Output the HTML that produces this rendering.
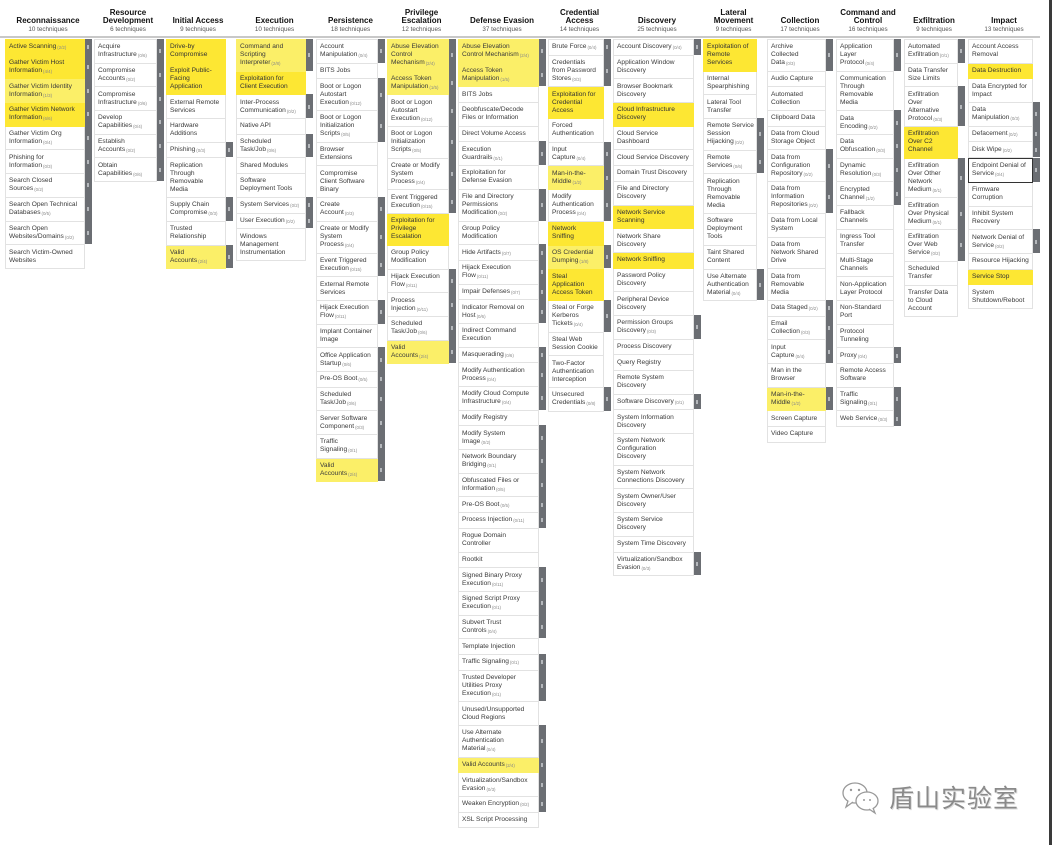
<!DOCTYPE html>
<html><head><meta charset="utf-8"><style>
body{margin:0;width:1052px;height:845px;background:#fff;position:relative;overflow:hidden;font-family:"Liberation Sans","Noto Sans CJK SC",sans-serif;}
.h{position:absolute;top:0;height:34px;display:flex;flex-direction:column;justify-content:flex-end;align-items:center;text-align:center;}
.h b{font-size:8px;line-height:8px;color:#111;}
.h span{font-size:6.3px;line-height:9px;color:#555;}
.rule{position:absolute;left:0;top:36px;width:1040px;height:2px;background:#c8c8c8;}
.col{position:absolute;top:39px;}
.c{position:relative;box-sizing:border-box;padding:3.35px 3px;line-height:8px;font-size:6.6px;border:1px solid #e2e2e2;border-top:none;background:#fff;white-space:nowrap;color:#3a3a3a;}
.c:first-child{border-top:1px solid #e2e2e2;}
.y{background:#fde733;border-color:#fde733!important;color:#333;}
.l{background:#fbef68;border-color:#fbef68!important;}
.b::after{content:"";position:absolute;top:-1px;bottom:0;right:-8px;width:7px;background:#6b6e73;}
.b::before{content:"";position:absolute;top:50%;margin-top:-2px;right:-5px;width:2px;height:4px;background:#b5b8bc;z-index:2;}
.c i{font-style:normal;font-size:4.4px;line-height:0;color:#888;vertical-align:0;position:relative;top:1px;margin-left:1px;}
.k{border:1px solid #333!important;}
</style></head><body>

<div class="h" style="left:0;width:96px"><b>Reconnaissance</b><span>10 techniques</span></div>
<div class="h" style="left:90px;width:76px"><b>Resource<br>Development</b><span>6 techniques</span></div>
<div class="h" style="left:163px;width:70px"><b>Initial Access</b><span>9 techniques</span></div>
<div class="h" style="left:236px;width:77px"><b>Execution</b><span>10 techniques</span></div>
<div class="h" style="left:316px;width:69px"><b>Persistence</b><span>18 techniques</span></div>
<div class="h" style="left:387px;width:69px"><b>Privilege<br>Escalation</b><span>12 techniques</span></div>
<div class="h" style="left:458px;width:88px"><b>Defense Evasion</b><span>37 techniques</span></div>
<div class="h" style="left:548px;width:63px"><b>Credential<br>Access</b><span>14 techniques</span></div>
<div class="h" style="left:613px;width:88px"><b>Discovery</b><span>25 techniques</span></div>
<div class="h" style="left:700px;width:67px"><b>Lateral<br>Movement</b><span>9 techniques</span></div>
<div class="h" style="left:767px;width:66px"><b>Collection</b><span>17 techniques</span></div>
<div class="h" style="left:830px;width:76px"><b>Command and<br>Control</b><span>16 techniques</span></div>
<div class="h" style="left:900px;width:68px"><b>Exfiltration</b><span>9 techniques</span></div>
<div class="h" style="left:966px;width:76px"><b>Impact</b><span>13 techniques</span></div>
<div class="rule"></div>

<div class="col" style="left:5px;width:80px">
<div class="c y b">Active Scanning<i>(2/2)</i></div>
<div class="c y b">Gather Victim Host<br>Information<i>(4/4)</i></div>
<div class="c l b">Gather Victim Identity<br>Information<i>(1/3)</i></div>
<div class="c y b">Gather Victim Network<br>Information<i>(6/6)</i></div>
<div class="c b">Gather Victim Org<br>Information<i>(0/4)</i></div>
<div class="c b">Phishing for<br>Information<i>(0/3)</i></div>
<div class="c b">Search Closed<br>Sources<i>(0/2)</i></div>
<div class="c b">Search Open Technical<br>Databases<i>(0/5)</i></div>
<div class="c b">Search Open<br>Websites/Domains<i>(0/2)</i></div>
<div class="c">Search Victim-Owned<br>Websites</div>
</div>

<div class="col" style="left:94px;width:63px">
<div class="c b">Acquire<br>Infrastructure<i>(0/6)</i></div>
<div class="c b">Compromise<br>Accounts<i>(0/2)</i></div>
<div class="c b">Compromise<br>Infrastructure<i>(0/6)</i></div>
<div class="c b">Develop<br>Capabilities<i>(0/4)</i></div>
<div class="c b">Establish<br>Accounts<i>(0/2)</i></div>
<div class="c b">Obtain<br>Capabilities<i>(0/6)</i></div>
</div>

<div class="col" style="left:166px;width:60px">
<div class="c y">Drive-by<br>Compromise</div>
<div class="c y">Exploit Public-<br>Facing<br>Application</div>
<div class="c">External Remote<br>Services</div>
<div class="c">Hardware<br>Additions</div>
<div class="c b">Phishing<i>(0/3)</i></div>
<div class="c">Replication<br>Through<br>Removable<br>Media</div>
<div class="c b">Supply Chain<br>Compromise<i>(0/3)</i></div>
<div class="c">Trusted<br>Relationship</div>
<div class="c l b">Valid<br>Accounts<i>(2/4)</i></div>
</div>

<div class="col" style="left:236px;width:70px">
<div class="c l b">Command and<br>Scripting<br>Interpreter<i>(2/8)</i></div>
<div class="c y">Exploitation for<br>Client Execution</div>
<div class="c b">Inter-Process<br>Communication<i>(0/2)</i></div>
<div class="c">Native API</div>
<div class="c b">Scheduled<br>Task/Job<i>(0/6)</i></div>
<div class="c">Shared Modules</div>
<div class="c">Software<br>Deployment Tools</div>
<div class="c b">System Services<i>(0/2)</i></div>
<div class="c b">User Execution<i>(0/2)</i></div>
<div class="c">Windows<br>Management<br>Instrumentation</div>
</div>

<div class="col" style="left:316px;width:62px">
<div class="c b">Account<br>Manipulation<i>(0/4)</i></div>
<div class="c">BITS Jobs</div>
<div class="c b">Boot or Logon<br>Autostart<br>Execution<i>(0/12)</i></div>
<div class="c b">Boot or Logon<br>Initialization<br>Scripts<i>(0/5)</i></div>
<div class="c">Browser<br>Extensions</div>
<div class="c">Compromise<br>Client Software<br>Binary</div>
<div class="c b">Create<br>Account<i>(0/3)</i></div>
<div class="c b">Create or Modify<br>System<br>Process<i>(0/4)</i></div>
<div class="c b">Event Triggered<br>Execution<i>(0/15)</i></div>
<div class="c">External Remote<br>Services</div>
<div class="c b">Hijack Execution<br>Flow<i>(0/11)</i></div>
<div class="c">Implant Container<br>Image</div>
<div class="c b">Office Application<br>Startup<i>(0/6)</i></div>
<div class="c b">Pre-OS Boot<i>(0/5)</i></div>
<div class="c b">Scheduled<br>Task/Job<i>(0/6)</i></div>
<div class="c b">Server Software<br>Component<i>(0/3)</i></div>
<div class="c b">Traffic<br>Signaling<i>(0/1)</i></div>
<div class="c l b">Valid<br>Accounts<i>(2/4)</i></div>
</div>

<div class="col" style="left:387px;width:62px">
<div class="c l b">Abuse Elevation<br>Control<br>Mechanism<i>(2/4)</i></div>
<div class="c l b">Access Token<br>Manipulation<i>(1/5)</i></div>
<div class="c b">Boot or Logon<br>Autostart<br>Execution<i>(0/12)</i></div>
<div class="c b">Boot or Logon<br>Initialization<br>Scripts<i>(0/5)</i></div>
<div class="c b">Create or Modify<br>System<br>Process<i>(0/4)</i></div>
<div class="c b">Event Triggered<br>Execution<i>(0/15)</i></div>
<div class="c y">Exploitation for<br>Privilege<br>Escalation</div>
<div class="c">Group Policy<br>Modification</div>
<div class="c b">Hijack Execution<br>Flow<i>(0/11)</i></div>
<div class="c b">Process<br>Injection<i>(0/11)</i></div>
<div class="c b">Scheduled<br>Task/Job<i>(0/6)</i></div>
<div class="c l b">Valid<br>Accounts<i>(2/4)</i></div>
</div>

<div class="col" style="left:458px;width:81px">
<div class="c l b">Abuse Elevation<br>Control Mechanism<i>(2/4)</i></div>
<div class="c l b">Access Token<br>Manipulation<i>(1/5)</i></div>
<div class="c">BITS Jobs</div>
<div class="c">Deobfuscate/Decode<br>Files or Information</div>
<div class="c">Direct Volume Access</div>
<div class="c b">Execution<br>Guardrails<i>(0/1)</i></div>
<div class="c">Exploitation for<br>Defense Evasion</div>
<div class="c b">File and Directory<br>Permissions<br>Modification<i>(0/2)</i></div>
<div class="c">Group Policy<br>Modification</div>
<div class="c b">Hide Artifacts<i>(0/7)</i></div>
<div class="c b">Hijack Execution<br>Flow<i>(0/11)</i></div>
<div class="c b">Impair Defenses<i>(0/7)</i></div>
<div class="c b">Indicator Removal on<br>Host<i>(0/6)</i></div>
<div class="c">Indirect Command<br>Execution</div>
<div class="c b">Masquerading<i>(0/6)</i></div>
<div class="c b">Modify Authentication<br>Process<i>(0/4)</i></div>
<div class="c b">Modify Cloud Compute<br>Infrastructure<i>(0/4)</i></div>
<div class="c">Modify Registry</div>
<div class="c b">Modify System<br>Image<i>(0/2)</i></div>
<div class="c b">Network Boundary<br>Bridging<i>(0/1)</i></div>
<div class="c b">Obfuscated Files or<br>Information<i>(0/5)</i></div>
<div class="c b">Pre-OS Boot<i>(0/5)</i></div>
<div class="c b">Process Injection<i>(0/11)</i></div>
<div class="c">Rogue Domain<br>Controller</div>
<div class="c">Rootkit</div>
<div class="c b">Signed Binary Proxy<br>Execution<i>(0/11)</i></div>
<div class="c b">Signed Script Proxy<br>Execution<i>(0/1)</i></div>
<div class="c b">Subvert Trust<br>Controls<i>(0/4)</i></div>
<div class="c">Template Injection</div>
<div class="c b">Traffic Signaling<i>(0/1)</i></div>
<div class="c b">Trusted Developer<br>Utilities Proxy<br>Execution<i>(0/1)</i></div>
<div class="c">Unused/Unsupported<br>Cloud Regions</div>
<div class="c b">Use Alternate<br>Authentication<br>Material<i>(0/4)</i></div>
<div class="c l b">Valid Accounts<i>(2/4)</i></div>
<div class="c b">Virtualization/Sandbox<br>Evasion<i>(0/3)</i></div>
<div class="c b">Weaken Encryption<i>(0/2)</i></div>
<div class="c">XSL Script Processing</div>
</div>

<div class="col" style="left:548px;width:56px">
<div class="c b">Brute Force<i>(0/4)</i></div>
<div class="c b">Credentials<br>from Password<br>Stores<i>(0/3)</i></div>
<div class="c y">Exploitation for<br>Credential<br>Access</div>
<div class="c">Forced<br>Authentication</div>
<div class="c b">Input<br>Capture<i>(0/4)</i></div>
<div class="c l b">Man-in-the-<br>Middle<i>(1/2)</i></div>
<div class="c b">Modify<br>Authentication<br>Process<i>(0/4)</i></div>
<div class="c y">Network<br>Sniffing</div>
<div class="c l b">OS Credential<br>Dumping<i>(1/8)</i></div>
<div class="c y">Steal<br>Application<br>Access Token</div>
<div class="c b">Steal or Forge<br>Kerberos<br>Tickets<i>(0/4)</i></div>
<div class="c">Steal Web<br>Session Cookie</div>
<div class="c">Two-Factor<br>Authentication<br>Interception</div>
<div class="c b">Unsecured<br>Credentials<i>(0/8)</i></div>
</div>

<div class="col" style="left:613px;width:81px">
<div class="c b">Account Discovery<i>(0/4)</i></div>
<div class="c">Application Window<br>Discovery</div>
<div class="c">Browser Bookmark<br>Discovery</div>
<div class="c y">Cloud Infrastructure<br>Discovery</div>
<div class="c">Cloud Service<br>Dashboard</div>
<div class="c">Cloud Service Discovery</div>
<div class="c">Domain Trust Discovery</div>
<div class="c">File and Directory<br>Discovery</div>
<div class="c y">Network Service<br>Scanning</div>
<div class="c">Network Share<br>Discovery</div>
<div class="c y">Network Sniffing</div>
<div class="c">Password Policy<br>Discovery</div>
<div class="c">Peripheral Device<br>Discovery</div>
<div class="c b">Permission Groups<br>Discovery<i>(0/3)</i></div>
<div class="c">Process Discovery</div>
<div class="c">Query Registry</div>
<div class="c">Remote System<br>Discovery</div>
<div class="c b">Software Discovery<i>(0/1)</i></div>
<div class="c">System Information<br>Discovery</div>
<div class="c">System Network<br>Configuration<br>Discovery</div>
<div class="c">System Network<br>Connections Discovery</div>
<div class="c">System Owner/User<br>Discovery</div>
<div class="c">System Service<br>Discovery</div>
<div class="c">System Time Discovery</div>
<div class="c b">Virtualization/Sandbox<br>Evasion<i>(0/3)</i></div>
</div>

<div class="col" style="left:703px;width:54px">
<div class="c y">Exploitation of<br>Remote<br>Services</div>
<div class="c">Internal<br>Spearphishing</div>
<div class="c">Lateral Tool<br>Transfer</div>
<div class="c b">Remote Service<br>Session<br>Hijacking<i>(0/2)</i></div>
<div class="c b">Remote<br>Services<i>(0/6)</i></div>
<div class="c">Replication<br>Through<br>Removable<br>Media</div>
<div class="c">Software<br>Deployment<br>Tools</div>
<div class="c">Taint Shared<br>Content</div>
<div class="c b">Use Alternate<br>Authentication<br>Material<i>(0/4)</i></div>
</div>

<div class="col" style="left:767px;width:59px">
<div class="c b">Archive<br>Collected<br>Data<i>(0/3)</i></div>
<div class="c">Audio Capture</div>
<div class="c">Automated<br>Collection</div>
<div class="c">Clipboard Data</div>
<div class="c">Data from Cloud<br>Storage Object</div>
<div class="c b">Data from<br>Configuration<br>Repository<i>(0/2)</i></div>
<div class="c b">Data from<br>Information<br>Repositories<i>(0/2)</i></div>
<div class="c">Data from Local<br>System</div>
<div class="c">Data from<br>Network Shared<br>Drive</div>
<div class="c">Data from<br>Removable<br>Media</div>
<div class="c b">Data Staged<i>(0/2)</i></div>
<div class="c b">Email<br>Collection<i>(0/3)</i></div>
<div class="c b">Input<br>Capture<i>(0/4)</i></div>
<div class="c">Man in the<br>Browser</div>
<div class="c l b">Man-in-the-<br>Middle<i>(1/2)</i></div>
<div class="c">Screen Capture</div>
<div class="c">Video Capture</div>
</div>

<div class="col" style="left:836px;width:58px">
<div class="c b">Application<br>Layer<br>Protocol<i>(0/4)</i></div>
<div class="c">Communication<br>Through<br>Removable<br>Media</div>
<div class="c b">Data<br>Encoding<i>(0/2)</i></div>
<div class="c b">Data<br>Obfuscation<i>(0/3)</i></div>
<div class="c b">Dynamic<br>Resolution<i>(0/3)</i></div>
<div class="c b">Encrypted<br>Channel<i>(1/2)</i></div>
<div class="c">Fallback<br>Channels</div>
<div class="c">Ingress Tool<br>Transfer</div>
<div class="c">Multi-Stage<br>Channels</div>
<div class="c">Non-Application<br>Layer Protocol</div>
<div class="c">Non-Standard<br>Port</div>
<div class="c">Protocol<br>Tunneling</div>
<div class="c b">Proxy<i>(0/4)</i></div>
<div class="c">Remote Access<br>Software</div>
<div class="c b">Traffic<br>Signaling<i>(0/1)</i></div>
<div class="c b">Web Service<i>(0/3)</i></div>
</div>

<div class="col" style="left:904px;width:54px">
<div class="c b">Automated<br>Exfiltration<i>(0/1)</i></div>
<div class="c">Data Transfer<br>Size Limits</div>
<div class="c b">Exfiltration<br>Over<br>Alternative<br>Protocol<i>(0/3)</i></div>
<div class="c y">Exfiltration<br>Over C2<br>Channel</div>
<div class="c b">Exfiltration<br>Over Other<br>Network<br>Medium<i>(0/1)</i></div>
<div class="c b">Exfiltration<br>Over Physical<br>Medium<i>(0/1)</i></div>
<div class="c b">Exfiltration<br>Over Web<br>Service<i>(0/2)</i></div>
<div class="c">Scheduled<br>Transfer</div>
<div class="c">Transfer Data<br>to Cloud<br>Account</div>
</div>

<div class="col" style="left:968px;width:65px">
<div class="c">Account Access<br>Removal</div>
<div class="c y">Data Destruction</div>
<div class="c">Data Encrypted for<br>Impact</div>
<div class="c b">Data<br>Manipulation<i>(0/3)</i></div>
<div class="c b">Defacement<i>(0/2)</i></div>
<div class="c b">Disk Wipe<i>(0/2)</i></div>
<div class="c b k">Endpoint Denial of<br>Service<i>(0/4)</i></div>
<div class="c">Firmware<br>Corruption</div>
<div class="c">Inhibit System<br>Recovery</div>
<div class="c b">Network Denial of<br>Service<i>(0/2)</i></div>
<div class="c">Resource Hijacking</div>
<div class="c y">Service Stop</div>
<div class="c">System<br>Shutdown/Reboot</div>
</div>

<div style="position:absolute;left:1049px;top:0;width:3px;height:845px;background:#3a3a3a"></div>

<svg style="position:absolute;left:840px;top:780px" width="45" height="35" viewBox="0 0 45 35">
<ellipse cx="15" cy="13" rx="12" ry="10" fill="#fff" stroke="#999" stroke-width="1.3"/>
<path d="M8 21 L6 27 L13 22" fill="#fff" stroke="#999" stroke-width="1.3"/>
<ellipse cx="27" cy="21" rx="11" ry="9" fill="#fff" stroke="#999" stroke-width="1.3"/>
<path d="M33 28 L35 33 L29 29" fill="#fff" stroke="#999" stroke-width="1.3"/>
<circle cx="11" cy="10" r="1.2" fill="#999"/><circle cx="19" cy="10" r="1.2" fill="#999"/>
<circle cx="24" cy="20" r="1" fill="#999"/><circle cx="30" cy="20" r="1" fill="#999"/>
</svg>
<div style="position:absolute;left:889px;top:784px;font-size:25px;line-height:30px;color:#8a8a8a;font-family:'Liberation Sans','Noto Sans CJK SC',sans-serif;letter-spacing:1px;text-shadow:1px 1px 0 #ddd">盾山实验室</div>
</body></html>
